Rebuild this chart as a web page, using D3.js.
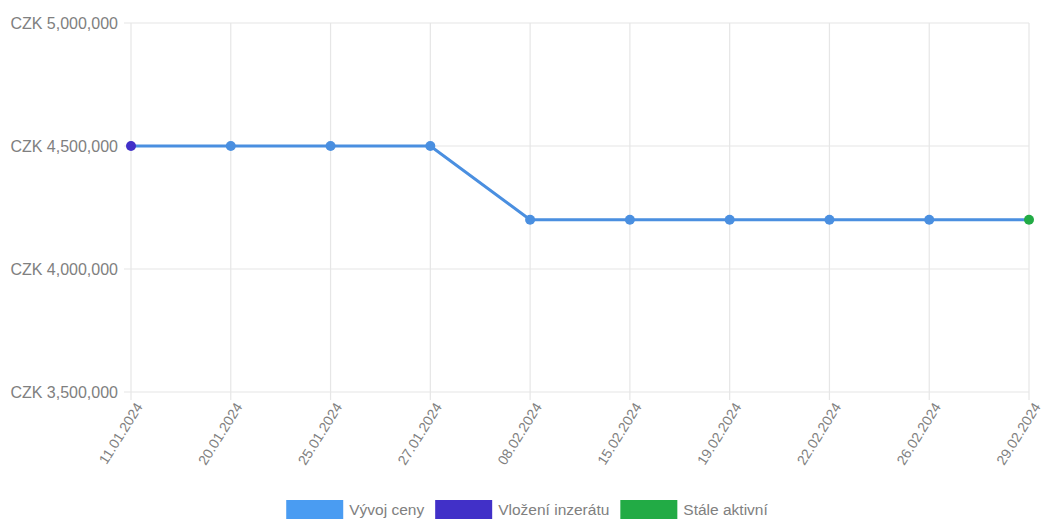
<!DOCTYPE html>
<html><head><meta charset="utf-8">
<script src="https://cdn.jsdelivr.net/npm/d3@7"></script>
<style>
html,body{margin:0;padding:0;background:#fff;}
svg{display:block;font-family:"Liberation Sans",Arial,sans-serif;}
</style></head>
<body>
<svg id="chart" width="1043" height="521"></svg>
<script>
const dates = ["11.01.2024","20.01.2024","25.01.2024","27.01.2024","08.02.2024","15.02.2024","19.02.2024","22.02.2024","26.02.2024","29.02.2024"];
const prices = [4500000,4500000,4500000,4500000,4200000,4200000,4200000,4200000,4200000,4200000];
const yTicks = [3500000,4000000,4500000,5000000];
const legendLabels = ["Vývoj ceny","Vložení inzerátu","Stále aktivní"];
const legendColors = ["#4a9cf2","#4130c8","#22ab45"];
const lineColor = "#4a8fe0";

const svg = d3.select("#chart");
const L = 131, R = 1029, T = 23, B = 392;

const x = d3.scalePoint().domain(dates).range([L, R]);
const y = d3.scaleLinear().domain([3500000, 5000000]).range([B, T]);

const fmt = v => "CZK " + d3.format(",")(v);

// vertical grid
svg.append("g").selectAll("line").data(dates).join("line")
  .attr("x1", d => x(d)).attr("x2", d => x(d))
  .attr("y1", T).attr("y2", B + 8)
  .attr("stroke", "#e6e6e6").attr("stroke-width", 1.2);
// horizontal grid
svg.append("g").selectAll("line").data(yTicks).join("line")
  .attr("x1", L - 7).attr("x2", R)
  .attr("y1", d => y(d)).attr("y2", d => y(d))
  .attr("stroke", "#e6e6e6").attr("stroke-width", 1.2);

// y labels
svg.append("g").selectAll("text").data(yTicks).join("text")
  .attr("x", 118).attr("y", d => y(d)).attr("dy", "0.35em")
  .attr("text-anchor", "end").attr("fill", "#808080").attr("font-size", "16px")
  .text(fmt);

// x labels
svg.append("g").selectAll("text").data(dates).join("text")
  .attr("transform", d => `translate(${x(d) + 8},${B + 12}) rotate(-58)`)
  .attr("text-anchor", "end").attr("dy", "0.35em")
  .attr("fill", "#808080").attr("font-size", "14px")
  .text(d => d);

// line
const line = d3.line().x((d, i) => x(dates[i])).y(d => y(d));
svg.append("path").datum(prices)
  .attr("d", line).attr("fill", "none")
  .attr("stroke", lineColor).attr("stroke-width", 3);

// points
svg.append("g").selectAll("circle").data(prices).join("circle")
  .attr("cx", (d, i) => x(dates[i])).attr("cy", d => y(d)).attr("r", 5)
  .attr("fill", (d, i) => i === 0 ? legendColors[1] : (i === prices.length - 1 ? legendColors[2] : lineColor));

// legend
const lg = svg.append("g");
const boxW = 57, boxH = 19, gapText = 6, gapItem = 11, fs = 15.5;
let cx = 0;
legendLabels.forEach((lab, i) => {
  const g = lg.append("g");
  g.append("rect").attr("x", 0).attr("y", 0).attr("width", boxW).attr("height", boxH)
    .attr("fill", legendColors[i]);
  const t = g.append("text").attr("x", boxW + gapText).attr("y", boxH / 2).attr("dy", "0.35em")
    .attr("fill", "#808080").attr("font-size", fs + "px").text(lab);
  const w = boxW + gapText + t.node().getComputedTextLength();
  g.attr("transform", `translate(${cx},0)`);
  cx += w + gapItem;
});
const total = cx - gapItem;
lg.attr("transform", `translate(${527 - total / 2},500)`);
</script>
</body></html>
